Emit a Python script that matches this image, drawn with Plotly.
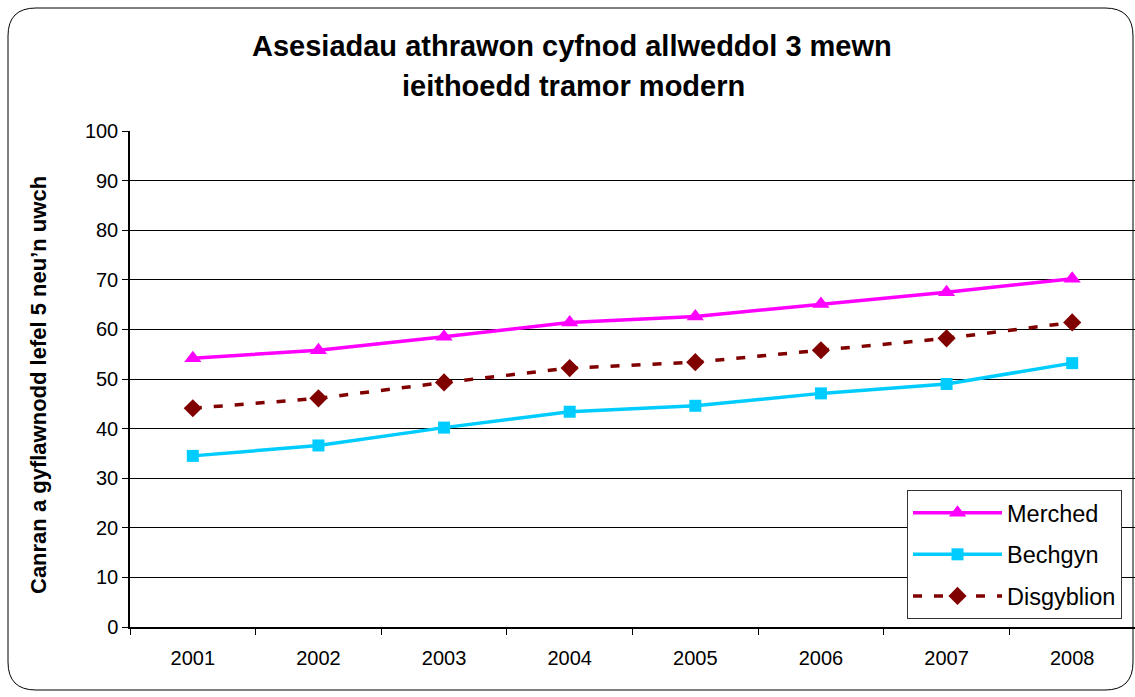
import plotly.graph_objects as go

years = ["2001", "2002", "2003", "2004", "2005", "2006", "2007", "2008"]
merched = [54.2, 55.8, 58.5, 61.4, 62.6, 65.1, 67.5, 70.2]
bechgyn = [34.5, 36.6, 40.2, 43.4, 44.6, 47.1, 49.0, 53.2]
disgyblion = [44.1, 46.1, 49.3, 52.2, 53.4, 55.8, 58.2, 61.4]

title_lines = ["Asesiadau athrawon cyfnod allweddol 3 mewn", "ieithoedd tramor modern"]
y_title = "Canran a gyflawnodd lefel 5 neu’n uwch"

W, H = 1135, 697
ML, MR, MT, MB = 130, 0, 131, 70
PW, PH = W - ML - MR, H - MT - MB

fig = go.Figure()
fig.add_trace(go.Scatter(x=years, y=merched, name="Merched", mode="lines+markers",
                         legendgroup="m",
                         line=dict(color="#FF00FF", width=3.5),
                         marker=dict(symbol="triangle-up", size=15, color="#FF00FF")))
fig.add_trace(go.Scatter(x=years, y=bechgyn, name="Bechgyn", mode="lines+markers",
                         legendgroup="b",
                         line=dict(color="#00CCFF", width=3.5),
                         marker=dict(symbol="square", size=12, color="#00CCFF")))
fig.add_trace(go.Scatter(x=years, y=disgyblion, name="Disgyblion", mode="lines+markers",
                         legendgroup="d",
                         line=dict(color="#800000", width=3.5, dash="9px,12px"),
                         marker=dict(symbol="diamond", size=14, color="#800000")))

# pixel -> paper conversion
def px(xp):
    return (xp - ML) / PW

def py(yp):
    return (H - MB - yp) / PH

x0, x1, y0, y1, r = 8, 1133, 8, 690, 28
path = (f"M {px(x0 + r)},{py(y0)} L {px(x1 - r)},{py(y0)} "
        f"Q {px(x1)},{py(y0)} {px(x1)},{py(y0 + r)} "
        f"L {px(x1)},{py(y1 - r)} Q {px(x1)},{py(y1)} {px(x1 - r)},{py(y1)} "
        f"L {px(x0 + r)},{py(y1)} Q {px(x0)},{py(y1)} {px(x0)},{py(y1 - r)} "
        f"L {px(x0)},{py(y0 + r)} Q {px(x0)},{py(y0)} {px(x0 + r)},{py(y0)} Z")

FONT = "Liberation Sans, Arial, sans-serif"

annotations = [
    dict(text=f"<b>{title_lines[0]}</b>", x=px(572), y=py(46), xref="paper", yref="paper",
         xanchor="center", yanchor="middle", showarrow=False, font=dict(size=29)),
    dict(text=f"<b>{title_lines[1]}</b>", x=px(573), y=py(86), xref="paper", yref="paper",
         xanchor="center", yanchor="middle", showarrow=False, font=dict(size=29)),
    dict(text=f"<b>{y_title}</b>", x=px(38), y=py(385), xref="paper", yref="paper",
         xanchor="center", yanchor="middle", showarrow=False, textangle=-90,
         font=dict(size=22)),
]

fig.update_layout(
    width=W, height=H,
    margin=dict(l=ML, r=MR, t=MT, b=MB),
    paper_bgcolor="white", plot_bgcolor="white",
    font=dict(family=FONT, color="black", size=20),
    xaxis=dict(type="category", range=[-0.5, 7.5], showgrid=False,
               showline=True, linecolor="black", linewidth=1.5,
               ticks="outside", tickson="boundaries", ticklen=6, tickcolor="black",
               tickfont=dict(size=20), ticklabelstandoff=12, fixedrange=True),
    yaxis=dict(range=[0, 100], dtick=10, showgrid=True, gridcolor="black", gridwidth=1,
               showline=True, linecolor="black", linewidth=1.5,
               ticks="outside", ticklen=6, tickcolor="black", zeroline=False,
               tickfont=dict(size=20), fixedrange=True),
    legend=dict(x=px(907), y=py(490), xanchor="left", yanchor="top",
                bgcolor="white", bordercolor="#333333", borderwidth=1,
                font=dict(size=23.5), tracegroupgap=8, itemwidth=89),
    annotations=annotations,
    shapes=[dict(type="path", path=path, xref="paper", yref="paper",
                 line=dict(color="black", width=1), layer="below")],
)

fig.write_html("out.html", config={"displayModeBar": False},
               post_script="document.body.style.margin='0';document.body.style.overflow='hidden';")
